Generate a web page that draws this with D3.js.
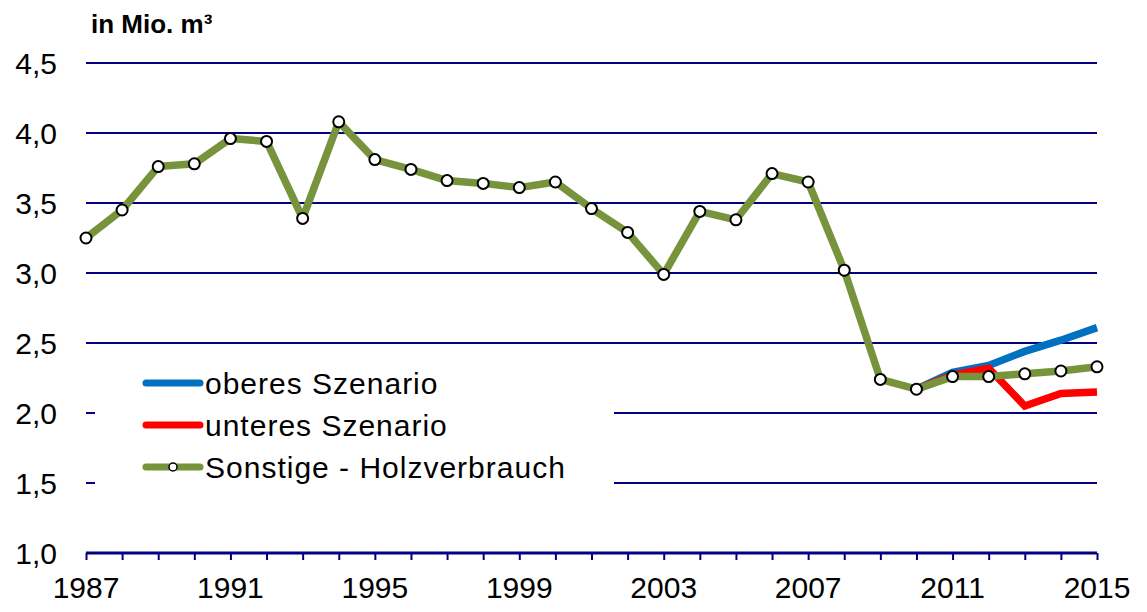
<!DOCTYPE html>
<html>
<head>
<meta charset="utf-8">
<script src="https://cdn.jsdelivr.net/npm/d3@7"></script>
<style>
  body { margin: 0; background: #fff; }
  text { font-family: "Liberation Sans", Arial, sans-serif; }
</style>
</head>
<body>
<div id="chart"></div>
<script>
/**
 * DATA
 * */
const years = d3.range(1987, 2016);
const holzverbrauch = [3.25, 3.45, 3.76, 3.78, 3.96, 3.94, 3.39, 4.08, 3.81, 3.74,
  3.66, 3.64, 3.61, 3.65, 3.46, 3.29, 2.99, 3.44, 3.38, 3.71,
  3.65, 3.02, 2.24, 2.17, 2.26, 2.26, 2.28, 2.30, 2.33];
const oberesYears = [2010, 2011, 2012, 2013, 2014, 2015];
const oberes = [2.17, 2.29, 2.34, 2.44, 2.52, 2.61];
const unteresYears = [2010, 2011, 2012, 2013, 2014, 2015];
const unteres = [2.17, 2.27, 2.32, 2.05, 2.14, 2.15];
const yTicks = [1.0, 1.5, 2.0, 2.5, 3.0, 3.5, 4.0, 4.5];
const xLabels = [1987, 1991, 1995, 1999, 2003, 2007, 2011, 2015];
const legendLabels = ["oberes Szenario", "unteres Szenario", "Sonstige - Holzverbrauch"];

/**
 * CONSTANTS
 * */
const width = 1147, height = 612;
const margin = { top: 63, bottom: 59, left: 86, right: 50 };
const colors = { oberes: "#0070C0", unteres: "#FF0000", sonst: "#77933C", grid: "#000080" };

const svg = d3.select("#chart").append("svg")
  .attr("width", width)
  .attr("height", height);

const x = d3.scaleLinear()
  .domain([1987, 2015])
  .range([margin.left, width - margin.right]);
const y = d3.scaleLinear()
  .domain([1.0, 4.5])
  .range([height - margin.bottom, margin.top]);

// gridlines
svg.selectAll("line.grid")
  .data(yTicks.filter(d => d > 1.0))
  .join("line")
  .attr("class", "grid")
  .attr("x1", x(1987)).attr("x2", x(2015))
  .attr("y1", d => y(d)).attr("y2", d => y(d))
  .attr("stroke", colors.grid)
  .attr("stroke-width", 2);

// y labels
svg.selectAll("text.ylab")
  .data(yTicks)
  .join("text")
  .attr("class", "ylab")
  .attr("x", 57)
  .attr("y", d => y(d) + 11)
  .attr("text-anchor", "end")
  .attr("font-size", 30)
  .text(d => d3.format(".1f")(d).replace(".", ","));

// x axis
const xAxis = d3.axisBottom(x)
  .tickValues(years)
  .tickSize(7)
  .tickFormat("");
const gx = svg.append("g")
  .attr("transform", `translate(0,${y(1.0)})`)
  .call(xAxis);
gx.select(".domain").attr("stroke", colors.grid).attr("stroke-width", 3).attr("d", `M${x(1987)},0H${x(2015)}`);
gx.selectAll(".tick line").attr("stroke", colors.grid).attr("stroke-width", 2);

svg.selectAll("text.xlab")
  .data(xLabels)
  .join("text")
  .attr("class", "xlab")
  .attr("x", d => x(d))
  .attr("y", 598)
  .attr("text-anchor", "middle")
  .attr("font-size", 30)
  .text(d => d);

// title
svg.append("text")
  .attr("x", 91)
  .attr("y", 33)
  .attr("font-size", 26)
  .attr("font-weight", "bold")
  .text("in Mio. m³");

// legend box (hides grid)
svg.append("rect")
  .attr("x", 95).attr("y", 355)
  .attr("width", 519).attr("height", 140)
  .attr("fill", "#fff");

// lines
const line = d3.line().x(d => x(d[0])).y(d => y(d[1]));
svg.append("path")
  .datum(d3.zip(oberesYears, oberes))
  .attr("d", line)
  .attr("fill", "none")
  .attr("stroke", colors.oberes)
  .attr("stroke-width", 7.5);
svg.append("path")
  .datum(d3.zip(unteresYears, unteres))
  .attr("d", line)
  .attr("fill", "none")
  .attr("stroke", colors.unteres)
  .attr("stroke-width", 7.5);
svg.append("path")
  .datum(d3.zip(years, holzverbrauch))
  .attr("d", line)
  .attr("fill", "none")
  .attr("stroke", colors.sonst)
  .attr("stroke-width", 7.5)
  .attr("stroke-linejoin", "round");
svg.selectAll("circle.dot")
  .data(d3.zip(years, holzverbrauch))
  .join("circle")
  .attr("class", "dot")
  .attr("cx", d => x(d[0]))
  .attr("cy", d => y(d[1]))
  .attr("r", 5.5)
  .attr("fill", "#fff")
  .attr("stroke", "#000")
  .attr("stroke-width", 2);

// legend
const legendColors = [colors.oberes, colors.unteres, colors.sonst];
const lg = svg.selectAll("g.legend")
  .data(legendLabels)
  .join("g")
  .attr("class", "legend")
  .attr("transform", (d, i) => `translate(146,${383 + i * 42})`);
lg.append("line")
  .attr("x1", 0).attr("x2", 54)
  .attr("stroke", (d, i) => legendColors[i])
  .attr("stroke-width", 7)
  .attr("stroke-linecap", "round");
lg.filter((d, i) => i === 2).append("circle")
  .attr("cx", 27).attr("r", 4)
  .attr("fill", "#fff").attr("stroke", "#000").attr("stroke-width", 1.5);
lg.append("text")
  .attr("x", 59)
  .attr("y", 11)
  .attr("font-size", 30)
  .attr("letter-spacing", 1)
  .text(d => d);
</script>
</body>
</html>
